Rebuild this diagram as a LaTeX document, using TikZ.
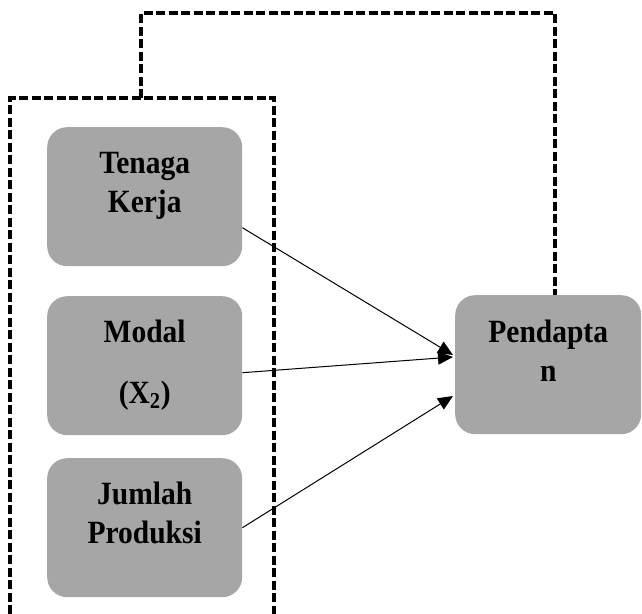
\documentclass[tikz,border=0pt]{standalone}
\usepackage{fontspec}
\usepackage{graphicx}
\setmainfont{Liberation Serif}
\usetikzlibrary{arrows.meta,calc}
\definecolor{boxgray}{HTML}{A6A6A6}
\tikzset{
  varbox/.style={fill=boxgray, rounded corners=20pt, inner sep=0pt, anchor=north west,
    font=\fontsize{29.5}{39}\selectfont\bfseries},
  dashline/.style={line width=3.2pt, dash pattern=on 9pt off 3.5pt},
  arr/.style={line width=1pt, -{Triangle[length=15pt,width=13pt]}}
}
\newcommand{\tl}[1]{\scalebox{1}[1.1]{#1}}
\newcommand{\boxtext}[1]{\parbox[c][139pt][t]{195pt}{\centering\rule{0pt}{46pt}#1}}
\begin{document}
\begin{tikzpicture}[x=1pt,y=-1pt]
\useasboundingbox (0,0) rectangle (642,613);
% boxes
\node[varbox] (T) at (47,127) {\boxtext{\tl{Tenaga}\\\tl{Kerja}}};
\node[varbox] (M) at (47,296) {\boxtext{\tl{Modal}\\[22pt]\tl{(X\textsubscript{2})}}};
\node[varbox] (J) at (47,458) {\boxtext{\tl{Jumlah}\\\tl{Produksi}}};
\node[varbox] (P) at (455,295) {\parbox[c][139pt][t]{186pt}{\centering\rule{0pt}{47pt}\tl{Pendapta}\\\tl{n}}};
% dashed group
\coordinate (g1) at (10,614);
\coordinate (g2) at (10,98);
\coordinate (g3) at (274,98);
\coordinate (g4) at (274,614);
\draw[dashline] (g1) -- (g2) -- (g3) -- (g4);
\coordinate (f1) at (141,98);
\coordinate (f2) at (141,13);
\coordinate (f3) at (555,13);
\coordinate (f4) at (555,295);
\draw[dashline] (f1) -- (f2) -- (f3) -- (f4);
% arrows
\coordinate (t1) at ($(T.east)+(0,31)$);
\coordinate (m1) at ($(M.east)+(0,7)$);
\coordinate (p1) at (453,355);
\coordinate (p2) at (453,357);
\coordinate (p3) at (453,396);
\draw[arr] (t1) -- (p1);
\draw[arr] (m1) -- (p2);
\draw[arr] (J.east) -- (p3);
\end{tikzpicture}
\end{document}
